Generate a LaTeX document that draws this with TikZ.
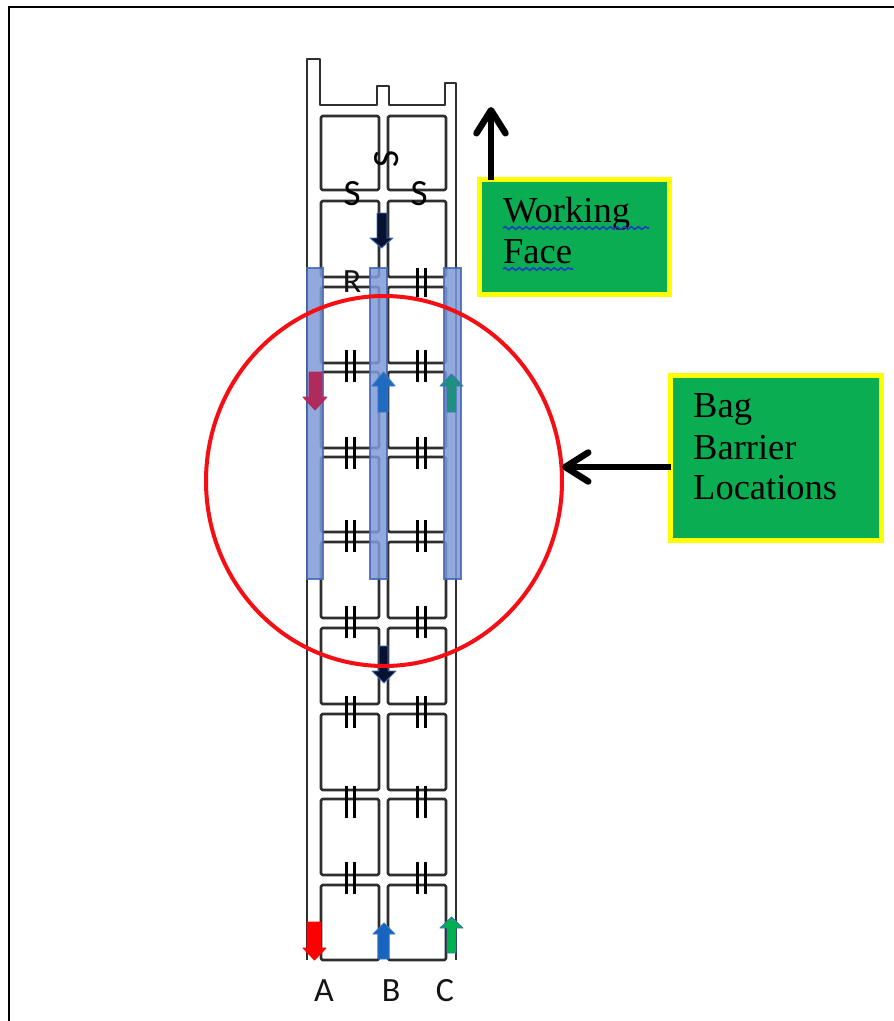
\documentclass[tikz,border=0pt]{standalone}
\usepackage{fontspec}
\usetikzlibrary{arrows.meta,decorations.pathmorphing,shapes.geometric}
\setmainfont{Liberation Serif}
\newfontfamily\calfont{Carlito}
\definecolor{roadline}{HTML}{2E2E2E}
\definecolor{boxgreen}{HTML}{0BAD52}
\definecolor{boxyellow}{HTML}{FFFF00}
\definecolor{barfill}{HTML}{7F9BD8}
\definecolor{baredge}{HTML}{4468B4}
\definecolor{ringred}{HTML}{F50F14}
\definecolor{edgeblue}{HTML}{3E74BE}
\definecolor{squiggle}{HTML}{1C3FC4}
\definecolor{navyblack}{HTML}{081230}
\definecolor{crimson}{HTML}{B02A5C}
\definecolor{midblue}{HTML}{1F6BC2}
\definecolor{teal}{HTML}{1F8F80}
\definecolor{lowblue}{HTML}{1565C0}
\definecolor{lowgreen}{HTML}{00B050}
\tikzset{
  road/.style={draw=roadline,line width=2.6pt,line join=round},
  cell/.style={road,rounded corners=1.5pt},
  tick/.style={draw=black,line width=3pt},
  bagbar/.style={fill=barfill,draw=baredge,line width=1.2pt,opacity=.85},
  greenbox/.style={draw=boxyellow,fill=boxgreen,line width=4.5pt,inner sep=0pt,outer sep=0pt,anchor=north west},
  boxtext/.style={anchor=base west,inner sep=0pt,text=black,font=\fontsize{36.5}{40}\selectfont},
  sanslabel/.style={inner sep=0pt,text=black!92,font=\calfont\fontsize{34}{36}\selectfont},
  slabel/.style={inner sep=0pt,text=black,font=\calfont\fontsize{37}{38}\selectfont},
  barbarrow/.style={draw=black,line width=6.5pt,-{Straight Barb[round,length=23pt,width=29pt,line width=6.5pt]}},
  spell/.style={draw=squiggle,line width=1.6pt,decorate,decoration={snake,amplitude=1.3pt,segment length=7pt}},
}
% shaft-left, shaft-right, tail y, head-base y, head-left, head-right, tip y, fill, edge
\newcommand{\blockarr}[9]{%
  \filldraw[fill=#8,draw=#9,line width=.9pt,line join=round]
    (#1,#3) -- (#1,#4) -- (#5,#4) -- ({(#5+#6)/2},#7) -- (#6,#4) -- (#2,#4) -- (#2,#3) -- cycle;}
\begin{document}
\begin{tikzpicture}[x=1pt,y=-1pt]
\path[use as bounding box,fill=white] (0,0) rectangle (894,1021);
% page frame
\draw[black,line width=2.4pt] (9,1021) -- (9,7) -- (894,7);
% outer road outline
\draw[road] (307,960) -- (307,59) -- (320,59) -- (320,105) -- (377,105) -- (377,86) -- (389,86)
  -- (389,105) -- (445,105) -- (445,83) -- (456,83) -- (456,960);
% pillars
\foreach \t/\b in {116/190,201/277,287/363,372/448,457/532,542/618,628/704,714/790,799/875,885/960}{
  \draw[cell] (321,\t) rectangle (379,\b);
  \draw[cell] (388,\t) rectangle (446,\b);
}
% stoppings (double ticks)
\foreach \c in {366,453,536,622,712,802,878}{
  \foreach \x in {346,354,417,425}{
    \draw[tick] (\x,\c-16) -- (\x,\c+16);
  }
}
\foreach \x in {417,425}{ \draw[tick] (\x,268) -- (\x,297); }
% letters
\node[slabel] (s1) at (352,194) {S};
\node[slabel] (s2) at (419,194) {S};
\node[slabel,rotate=90] (s3) at (387,159) {S};
\node[sanslabel] (r) at (352,282) {R};
\node[sanslabel] (la) at (324,990.5) {A};
\node[sanslabel] (lb) at (391,990.5) {B};
\node[sanslabel] (lc) at (445,990.5) {C};
% bag barrier bars
\path[bagbar] (307,268) rectangle (323,579);
\path[bagbar] (370,268) rectangle (387,579);
\path[bagbar] (444,268) rectangle (461,579);
% block arrows
\blockarr{377}{387}{213}{238}{370}{393}{248}{navyblack}{edgeblue}
\blockarr{379}{388}{646}{671}{372}{396}{683}{navyblack}{edgeblue}
\blockarr{309}{322}{372}{397}{303}{327}{410}{crimson}{crimson}
\blockarr{378}{388}{412}{386}{372}{395}{372}{midblue}{edgeblue}
\blockarr{447}{456}{412}{386}{440}{463}{374}{teal}{edgeblue}
\blockarr{307}{321}{922}{948}{303}{326}{960}{red}{red}
\blockarr{378}{389}{959}{934}{373}{395}{923}{lowblue}{edgeblue}
\blockarr{447}{456}{953}{928}{440}{463}{917}{lowgreen}{edgeblue}
% red circle
\node[ellipse,draw=ringred,line width=4pt,minimum width=356pt,minimum height=370pt,inner sep=0pt] (ring) at (384,481) {};
% boxes
\node[greenbox,minimum width=190pt,minimum height=115pt] (wf) at (479.5,179.5) {};
\node[greenbox,minimum width=211pt,minimum height=165pt] (bb) at (670.5,375.5) {};
\node[boxtext] (wf1) at (503,222) {Working};
\node[boxtext] (wf2) at (503,263) {Face};
\node[boxtext] (bb1) at (693,417) {Bag};
\node[boxtext] (bb2) at (693,459) {Barrier};
\node[boxtext] (bb3) at (693,499) {Locations};
\draw[spell] (wf1.base west) ++(0,6) -- ++(146,0);
\draw[spell] (wf2.base west) ++(0,6) -- ++(70,0);
% pointers
\coordinate (wftip) at (491,107);
\coordinate (ringtip) at (562,467);
\draw[barbarrow] (wf.north west -| wftip) -- (wftip);
\draw[barbarrow] (bb.west |- ringtip) -- (ringtip);
\end{tikzpicture}
\end{document}
